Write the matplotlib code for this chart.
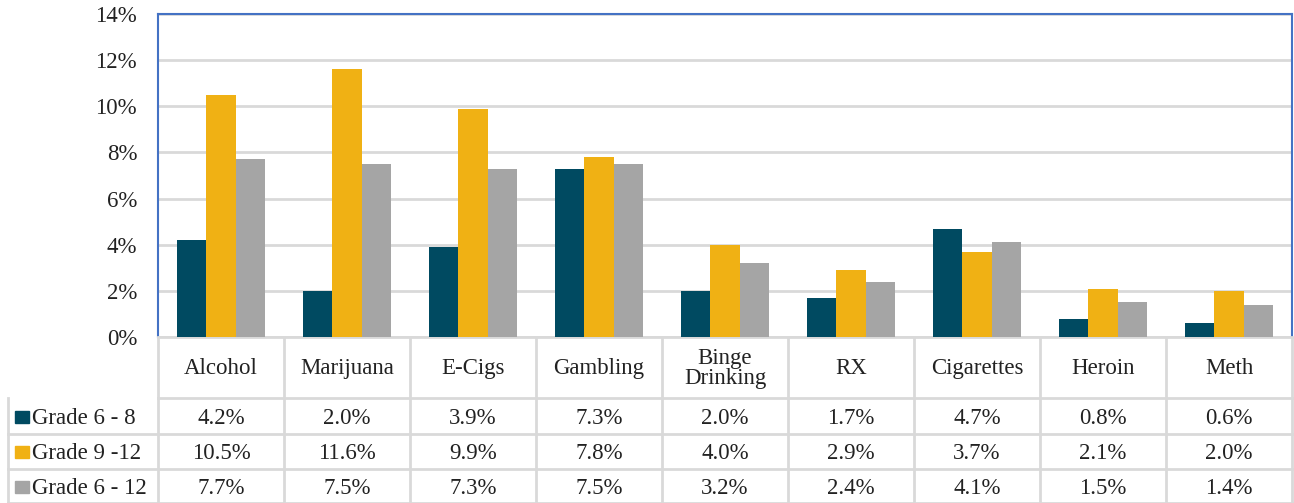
import numpy as np
import matplotlib.pyplot as plt

categories = ["Alcohol", "Marijuana", "E-Cigs", "Gambling", "Binge\nDrinking",
              "RX", "Cigarettes", "Heroin", "Meth"]
series = ["Grade 6 - 8", "Grade 9 -12", "Grade 6 - 12"]
grade_6_8 = [4.2, 2.0, 3.9, 7.3, 2.0, 1.7, 4.7, 0.8, 0.6]
grade_9_12 = [10.5, 11.6, 9.9, 7.8, 4.0, 2.9, 3.7, 2.1, 2.0]
grade_6_12 = [7.7, 7.5, 7.3, 7.5, 3.2, 2.4, 4.1, 1.5, 1.4]
values = [grade_6_8, grade_9_12, grade_6_12]
colors = ["#004a61", "#f0b114", "#a5a5a5"]

plt.rcParams['font.family'] = ['Liberation Serif', 'DejaVu Serif']

W, H = 1294, 503
fig = plt.figure(figsize=(W / 100, H / 100), dpi=100)

# plot area in pixels
x0, x1 = 158, 1292
y_top, y_zero = 14, 337
ax = fig.add_axes([x0 / W, (H - y_zero) / H, (x1 - x0) / W, (y_zero - y_top) / H])

n = len(categories)
x = np.arange(n)
bw = 0.235
for i, (vals, c) in enumerate(zip(values, colors)):
    ax.bar(x + (i - 1) * bw, vals, width=bw, color=c, zorder=3)

ax.set_xlim(-0.5, n - 0.5)
ax.set_ylim(0, 14)
ax.set_yticks(range(0, 15, 2))
ax.set_yticklabels([f"{t}%" for t in range(0, 15, 2)], fontsize=16.5, color="#222222")
ax.set_xticks([])
ax.tick_params(axis='y', length=0, pad=15)
ax.grid(axis='y', color="#d9d9d9", linewidth=2, zorder=0)
for s in ["top", "right", "left"]:
    ax.spines[s].set_color("#4472c4")
    ax.spines[s].set_linewidth(1.5)
ax.spines["bottom"].set_color("#d9d9d9")
ax.spines["bottom"].set_linewidth(2)

# data table drawn below the plot area
tx = fig.add_axes([0, 0, 1, (H - y_zero) / H])
tx.set_xlim(0, W)
tx.set_ylim(H, y_zero)
tx.axis("off")

cw = (x1 - x0) / n
row_edges = [y_zero, 398, 434, 469, H]
lc = "#d9d9d9"
lw = 2
# header row
tx.plot([x0, x1], [row_edges[1], row_edges[1]], color=lc, lw=lw)
for k in range(n + 1):
    tx.plot([x0 + k * cw] * 2, [y_zero, H], color=lc, lw=lw)
# data rows
for r in range(2, 5):
    tx.plot([8, x1], [row_edges[r], row_edges[r]], color=lc, lw=lw)
tx.plot([8, 8], [row_edges[1], H], color=lc, lw=lw)

for k, cat in enumerate(categories):
    tx.text(x0 + (k + 0.5) * cw, (row_edges[0] + row_edges[1]) / 2 + 1, cat,
            ha="center", va="center", fontsize=16.5, color="#222222", linespacing=0.95)

for r, (name, vals, c) in enumerate(zip(series, values, colors)):
    yc = (row_edges[r + 1] + row_edges[r + 2]) / 2
    tx.add_patch(plt.Rectangle((15, yc - 5), 14, 12, color=c))
    tx.text(32, yc, name, ha="left", va="center_baseline", fontsize=16.5, color="#222222")
    for k, v in enumerate(vals):
        tx.text(x0 + (k + 0.5) * cw, yc, f"{v:.1f}%", ha="center", va="center_baseline",
                fontsize=16.5, color="#222222")

fig.savefig("out.png", dpi=100)
